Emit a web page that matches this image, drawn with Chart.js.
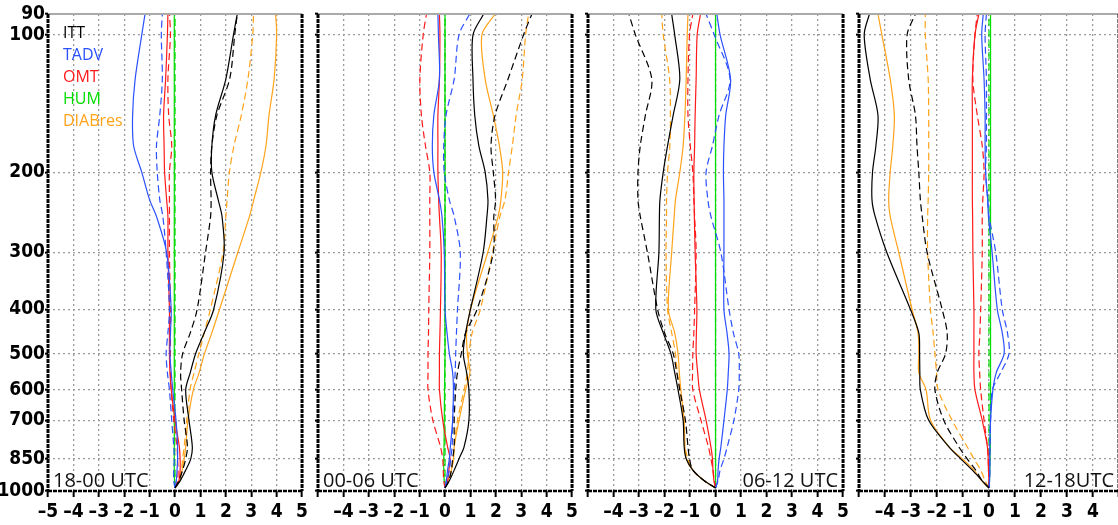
<!DOCTYPE html>
<html>
<head>
<meta charset="utf-8">
<title>Temperature tendency budget profiles</title>
<script src="https://cdn.jsdelivr.net/npm/chart.js@4.4.1/dist/chart.umd.min.js"></script>
<style>
  html, body { margin: 0; padding: 0; background: #fff; overflow: hidden; width: 1118px; height: 525px; }
  .panel { position: absolute; top: 0; height: 525px; }
</style>
</head>
<body>
<div class="panel" style="left:0px"><canvas id="c0"></canvas></div>
<div class="panel" style="left:312px"><canvas id="c1"></canvas></div>
<div class="panel" style="left:582px"><canvas id="c2"></canvas></div>
<div class="panel" style="left:853px"><canvas id="c3"></canvas></div>
<script>
// pressure levels (hPa), from the surface up
const levels = [985, 950, 900, 850, 800, 700, 600, 550, 500, 450, 400, 300, 250, 230, 200, 175, 150, 125, 100, 90];
const yTicks = [90, 100, 200, 300, 400, 500, 600, 700, 850, 1000];

const varNames = ['ITT', 'TADV', 'OMT', 'HUM', 'DIABres'];
const varColors = ['#000000', '#2b50ff', '#ff1a1a', '#00dd00', '#ffa31a'];
const panelTitles = ['18-00 UTC', '00-06 UTC', '06-12 UTC', '12-18UTC'];

// 18-00 UTC (S = solid, D = dashed)
const p1IttS  = [0, 0.2, 0.42, 0.62, 0.68, 0.55, 0.42, 0.6, 0.81, 1.15, 1.52, 1.93, 1.85, 1.7, 1.45, 1.45, 1.6, 2.0, 2.3, 2.45];
const p1IttD  = [0, 0.15, 0.3, 0.42, 0.49, 0.36, 0.26, 0.22, 0.3, 0.6, 0.87, 1.2, 1.4, 1.42, 1.4, 1.45, 1.65, 2.15, 2.35, 2.45];
const p1TadvS = [0, 0.05, 0.08, 0.1, 0.1, 0.04, -0.09, -0.15, -0.2, -0.18, -0.15, -0.33, -0.73, -1.0, -1.31, -1.63, -1.67, -1.57, -1.31, -1.18];
const p1TadvD = [0, -0.05, -0.05, -0.03, -0.05, -0.13, -0.22, -0.3, -0.35, -0.28, -0.22, -0.35, -0.48, -0.6, -0.7, -0.73, -0.6, -0.5, -0.54, -0.5];
const p1OmtS  = [0, 0.15, 0.2, 0.2, 0.17, 0.0, -0.15, -0.2, -0.22, -0.22, -0.22, -0.28, -0.28, -0.33, -0.41, -0.43, -0.45, -0.37, -0.3, -0.28];
const p1OmtD  = [0, 0.1, 0.12, 0.1, 0.08, -0.05, -0.15, -0.18, -0.18, -0.18, -0.18, -0.22, -0.22, -0.22, -0.22, -0.13, -0.25, -0.28, -0.18, -0.22];
const p1HumS  = [0, -0.02, -0.03, -0.03, -0.03, -0.03, -0.03, -0.03, -0.03, -0.03, -0.03, -0.03, -0.03, -0.03, -0.03, -0.03, -0.03, -0.03, -0.03, -0.03];
const p1HumD  = [0, 0, 0, -0.01, -0.01, -0.01, 0, 0, 0, 0, 0, 0, 0, 0, 0, 0, 0, 0, 0, 0];
const p1DiabS = [0, 0.18, 0.28, 0.36, 0.42, 0.51, 0.72, 0.95, 1.16, 1.45, 1.75, 2.47, 2.93, 3.1, 3.38, 3.58, 3.7, 3.9, 4.0, 3.96];
const p1DiabD = [0, 0.15, 0.25, 0.3, 0.36, 0.46, 0.59, 0.75, 0.94, 1.15, 1.39, 1.89, 2.0, 2.05, 2.14, 2.32, 2.61, 2.87, 3.06, 3.09];

// 00-06 UTC
const p2IttS  = [0, 0.17, 0.36, 0.55, 0.75, 0.94, 0.94, 0.85, 0.72, 0.81, 1.0, 1.5, 1.65, 1.69, 1.58, 1.33, 1.17, 1.1, 1.1, 1.52];
const p2IttD  = [0, 0.15, 0.25, 0.3, 0.36, 0.36, 0.42, 0.49, 0.64, 0.81, 1.26, 1.9, 1.92, 1.99, 1.9, 1.81, 1.97, 2.48, 3.09, 3.42];
const p2TadvS = [0, 0.05, 0.1, 0.17, 0.21, 0.3, 0.33, 0.3, 0.17, 0.08, 0, -0.03, -0.12, -0.22, -0.44, -0.5, -0.44, -0.22, -0.26, -0.28];
const p2TadvD = [0, 0.08, 0.17, 0.22, 0.28, 0.3, 0.36, 0.4, 0.42, 0.45, 0.49, 0.6, 0.36, 0.17, -0.03, -0.05, 0.04, 0.36, 0.55, 0.97];
const p2OmtS  = [0, 0.1, 0.15, 0.2, 0.1, -0.09, -0.22, -0.22, -0.22, -0.2, -0.18, -0.15, -0.22, -0.25, -0.28, -0.28, -0.28, -0.22, -0.2, -0.22];
const p2OmtD  = [0, -0.05, -0.07, -0.09, -0.18, -0.48, -0.67, -0.67, -0.67, -0.65, -0.64, -0.6, -0.6, -0.6, -0.6, -0.77, -0.93, -0.99, -0.86, -0.73];
const p2HumS  = [0, -0.03, -0.05, -0.05, -0.04, -0.03, -0.02, -0.01, 0, 0, 0, 0, 0, 0, 0, 0, 0, 0, 0, 0];
const p2HumD  = [0, 0, 0, 0, 0, 0, 0, 0, 0, 0, 0, 0, 0, 0, 0, 0, 0, 0, 0, 0];
const p2DiabS = [0, 0.12, 0.25, 0.33, 0.36, 0.55, 0.81, 0.98, 0.88, 0.85, 1.0, 1.68, 2.09, 2.2, 2.27, 2.14, 1.9, 1.58, 1.45, 1.97];
const p2DiabD = [0, 0.15, 0.25, 0.33, 0.36, 0.49, 0.75, 0.88, 0.94, 1.07, 1.39, 1.87, 2.16, 2.36, 2.5, 2.65, 2.8, 3.04, 3.17, 3.29];

// 06-12 UTC
const p3IttS  = [0, -0.44, -0.89, -1.15, -1.23, -1.27, -1.47, -1.6, -1.75, -2.05, -2.34, -2.22, -2.2, -2.18, -2.05, -1.88, -1.66, -1.4, -1.6, -1.72];
const p3IttD  = [0, -0.44, -0.89, -1.02, -1.08, -1.18, -1.4, -1.52, -1.66, -2.0, -2.27, -2.67, -2.95, -3.04, -3.04, -2.95, -2.75, -2.5, -3.14, -3.4];
const p3TadvS = [0, 0.08, 0.1, 0.14, 0.21, 0.33, 0.46, 0.5, 0.53, 0.45, 0.33, 0.33, 0.33, 0.33, 0.31, 0.33, 0.4, 0.59, 0.18, 0.05];
const p3TadvD = [0, 0.1, 0.18, 0.33, 0.46, 0.72, 0.91, 0.93, 0.91, 0.7, 0.53, 0.21, -0.18, -0.3, -0.37, -0.12, 0.14, 0.57, -0.05, -0.37];
const p3OmtS  = [0, -0.06, -0.1, -0.12, -0.18, -0.37, -0.63, -0.7, -0.76, -0.75, -0.73, -0.8, -0.83, -0.84, -0.85, -0.82, -0.8, -0.76, -0.72, -0.59];
const p3OmtD  = [0, -0.05, -0.1, -0.18, -0.28, -0.57, -0.89, -0.9, -0.89, -0.85, -0.82, -0.76, -0.82, -0.85, -0.89, -0.99, -1.08, -1.08, -1.02, -0.89];
const p3HumS  = [0, 0, 0, 0, 0, 0, 0, 0, 0, 0, 0, 0, 0, 0, 0, 0, 0, 0, 0, 0];
const p3HumD  = [0, 0, 0, 0, 0, 0, 0, 0, 0, 0, 0, 0, 0, 0, 0, 0, 0, 0, 0, 0];
const p3DiabS = [0, -0.44, -0.89, -1.15, -1.2, -1.23, -1.36, -1.42, -1.47, -1.6, -1.85, -1.72, -1.62, -1.57, -1.4, -1.27, -1.2, -1.15, -1.11, -1.08];
const p3DiabD = [0, -0.44, -0.89, -1.08, -1.2, -1.25, -1.4, -1.5, -1.57, -1.72, -1.88, -1.94, -1.92, -1.92, -1.88, -1.79, -1.77, -1.8, -2.05, -2.11];

// 12-18 UTC
const p4IttS  = [0, -0.26, -0.64, -1.09, -1.54, -2.32, -2.64, -2.66, -2.67, -2.7, -3.02, -3.93, -4.38, -4.5, -4.48, -4.35, -4.27, -4.57, -4.8, -4.6];
const p4IttD  = [0, -0.26, -0.51, -0.84, -1.16, -1.74, -2.08, -1.99, -1.67, -1.61, -1.8, -2.38, -2.57, -2.64, -2.7, -2.77, -2.83, -3.09, -3.15, -2.83];
const p4TadvS = [0, 0.02, 0.03, 0.03, 0.03, 0.06, 0.15, 0.28, 0.58, 0.51, 0.32, 0.12, -0.02, -0.05, -0.13, -0.15, -0.15, -0.19, -0.28, -0.22];
const p4TadvD = [0, 0.02, 0.03, 0.03, 0.04, 0.06, 0.13, 0.45, 0.77, 0.71, 0.51, 0.26, 0.0, -0.05, -0.13, -0.1, -0.1, -0.1, -0.15, -0.1];
const p4OmtS  = [0, 0, -0.02, -0.03, -0.06, -0.26, -0.54, -0.58, -0.58, -0.58, -0.58, -0.62, -0.63, -0.64, -0.64, -0.64, -0.64, -0.64, -0.54, -0.39];
const p4OmtD  = [0, 0, -0.02, -0.03, -0.06, -0.19, -0.32, -0.36, -0.39, -0.35, -0.32, -0.26, -0.26, -0.24, -0.19, -0.26, -0.45, -0.62, -0.54, -0.45];
const p4HumS  = [0, 0.02, 0.03, 0.04, 0.05, 0.05, 0.06, 0.06, 0.06, 0.06, 0.06, 0.06, 0.06, 0.06, 0.06, 0.06, 0.06, 0.06, 0.06, 0.06];
const p4HumD  = [0, 0, 0, 0, 0, 0, 0, 0, 0, 0, 0, 0, 0, 0, 0, 0, 0, 0, 0, 0];
const p4DiabS = [0, -0.28, -0.58, -1.03, -1.54, -2.25, -2.42, -2.7, -2.7, -2.73, -2.96, -3.47, -3.8, -3.86, -3.8, -3.7, -3.64, -3.8, -4.12, -4.27];
const p4DiabD = [0, -0.15, -0.32, -0.58, -0.84, -1.42, -1.96, -2.02, -2.08, -2.15, -2.25, -2.36, -2.36, -2.34, -2.32, -2.32, -2.32, -2.34, -2.45, -2.45];

const panelSolid = [
    [p1IttS, p1TadvS, p1OmtS, p1HumS, p1DiabS],
    [p2IttS, p2TadvS, p2OmtS, p2HumS, p2DiabS],
    [p3IttS, p3TadvS, p3OmtS, p3HumS, p3DiabS],
    [p4IttS, p4TadvS, p4OmtS, p4HumS, p4DiabS]
];
const panelDashed = [
    [p1IttD, p1TadvD, p1OmtD, p1HumD, p1DiabD],
    [p2IttD, p2TadvD, p2OmtD, p2HumD, p2DiabD],
    [p3IttD, p3TadvD, p3OmtD, p3HumD, p3DiabD],
    [p4IttD, p4TadvD, p4OmtD, p4HumD, p4DiabD]
];

// canvas placement: left edge, width, plot left/right in page pixels
const boxes = [
    { left: 0,   width: 312, plotLeft: 48,  plotRight: 307 },
    { left: 312, width: 270, plotLeft: 318, plotRight: 577 },
    { left: 582, width: 271, plotLeft: 588, plotRight: 848 },
    { left: 853, width: 270, plotLeft: 859, plotRight: 1119 }
];

// pick a tall narrow bold face for the tick numbers if one is installed
function hasFont(name) {
    const c = document.createElement('canvas').getContext('2d');
    c.font = 'bold 40px monospace';
    const base = c.measureText('1000 -5 850').width;
    c.font = 'bold 40px "' + name + '", monospace';
    return c.measureText('1000 -5 850').width !== base;
}
const tickFont = hasFont('Liberation Sans Narrow')
    ? { family: '"Liberation Sans Narrow"', weight: 'bold', size: 21 }
    : { family: '"DejaVu Sans Condensed", sans-serif', weight: 'bold', size: 19 };

// short dash for negative numbers, like the original plot
const fmtTick = (v) => (v < 0 ? '\u2013' + Math.abs(v) : String(v));

// frame, panel label and legend drawn on top of each panel
const framePlugin = {
    id: 'frame',
    afterDraw(chart, args, opts) {
        const ctx = chart.ctx;
        const a = chart.chartArea;
        ctx.save();
        ctx.strokeStyle = '#aaaaaa';
        ctx.lineWidth = 2;
        ctx.beginPath();
        ctx.moveTo(a.left, a.top);
        ctx.lineTo(a.right, a.top);
        ctx.stroke();

        ctx.strokeStyle = '#000';
        ctx.setLineDash([4, 1]);
        ctx.lineWidth = 3;
        ctx.beginPath();
        ctx.moveTo(a.left, a.top);
        ctx.lineTo(a.left, a.bottom);
        ctx.moveTo(a.right, a.top);
        ctx.lineTo(a.right, a.bottom);
        ctx.stroke();
        ctx.lineWidth = 2.5;
        ctx.beginPath();
        ctx.moveTo(a.left, a.bottom);
        ctx.lineTo(a.right, a.bottom);
        ctx.stroke();
        ctx.setLineDash([]);

        ctx.font = '20px "Open Sans"';
        ctx.fillStyle = '#111';
        ctx.textBaseline = 'alphabetic';
        if (opts.titleAlign === 'left') {
            ctx.textAlign = 'left';
            ctx.fillText(opts.title, a.left + 5, a.bottom - 4);
        } else {
            ctx.textAlign = 'right';
            ctx.fillText(opts.title, a.right - 5, a.bottom - 4);
        }

        if (opts.legend) {
            ctx.font = '16px "Open Sans"';
            ctx.textAlign = 'left';
            varNames.forEach((name, i) => {
                ctx.fillStyle = varColors[i];
                ctx.fillText(name, a.left + 15, 38 + i * 22);
            });
        }
        ctx.restore();
    }
};

function makeDatasets(k) {
    const sets = [];
    varNames.forEach((name, i) => {
        sets.push({
            label: name,
            data: levels.map((p, j) => ({ x: panelSolid[k][i][j], y: p })),
            borderColor: varColors[i],
            borderWidth: 1.2,
            pointRadius: 0,
            showLine: true,
            tension: 0.3
        });
        sets.push({
            label: name + ' (dashed)',
            data: levels.map((p, j) => ({ x: panelDashed[k][i][j], y: p })),
            borderColor: varColors[i],
            borderWidth: 1.2,
            borderDash: [7, 4],
            pointRadius: 0,
            showLine: true,
            tension: 0.3
        });
    });
    return sets;
}

boxes.forEach((box, k) => {
    const canvas = document.getElementById('c' + k);
    canvas.width = box.width;
    canvas.height = 525;
    const axisW = box.plotLeft - box.left;
    const padRight = box.left + box.width - box.plotRight;

    new Chart(canvas.getContext('2d'), {
        type: 'scatter',
        data: { datasets: makeDatasets(k) },
        options: {
            responsive: false,
            animation: false,
            layout: { padding: { top: 14, right: padRight, bottom: 0, left: 0 } },
            plugins: {
                legend: { display: false },
                tooltip: { enabled: false },
                frame: { title: panelTitles[k], titleAlign: k < 2 ? 'left' : 'right', legend: k === 0 }
            },
            scales: {
                x: {
                    type: 'linear',
                    min: -5,
                    max: 5,
                    afterFit: (s) => { s.height = 34; },
                    ticks: {
                        stepSize: 1,
                        autoSkip: false,
                        maxRotation: 0,
                        padding: 4,
                        color: '#000',
                        font: tickFont,
                        callback: (v) => {
                            if (k > 0 && v === -5) return '';
                            if (k === 3 && v === 5) return '';
                            return fmtTick(v);
                        }
                    },
                    grid: { color: '#9a9a9a', lineWidth: 1.3, tickColor: '#000', tickWidth: 2, tickLength: 6 },
                    border: { display: false, dash: [2, 3] }
                },
                y: {
                    type: 'logarithmic',
                    reverse: true,
                    min: 90,
                    max: 1000,
                    afterBuildTicks: (s) => { s.ticks = yTicks.map(v => ({ value: v })); },
                    afterFit: (s) => { s.width = axisW; },
                    ticks: {
                        display: k === 0,
                        padding: 0,
                        color: '#000',
                        font: tickFont,
                        callback: (v) => String(v)
                    },
                    grid: { color: '#9a9a9a', lineWidth: 1.3, tickColor: '#000', tickWidth: 2, tickLength: 3 },
                    border: { display: false, dash: [2, 3] }
                }
            }
        },
        plugins: [framePlugin]
    });
});
</script>
</body>
</html>
